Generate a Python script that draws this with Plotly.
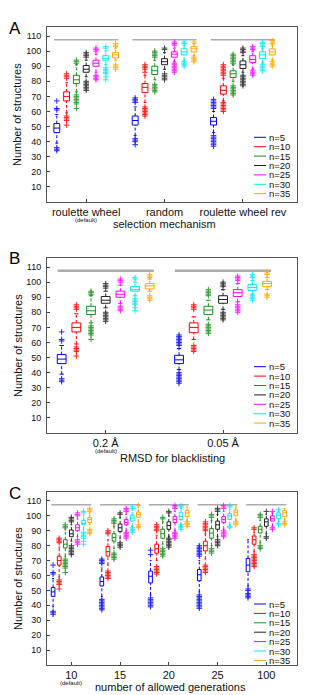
import plotly.graph_objects as go

# ---- data ----
N_LABELS = ['n=5', 'n=10', 'n=15', 'n=20', 'n=25', 'n=30', 'n=35']
COLORS = ['#0000ff', '#ff0000', '#1e8c1e', '#222222', '#ff00ff', '#00e8f0', '#ffa500']
REF_LEVEL = 107.5   # gray reference line above each group

A_CATS = ['roulette wheel', 'random', 'roulette wheel rev']
B_CATS = ['0.2 Å', '0.05 Å']
C_CATS = ['10', '15', '20', '25', '100']

# each row: lower whisker, q1, median, q3, upper whisker (n=5 ... n=35)
DEF_STATS = [(39, 46, 49, 52, 58), (59, 67, 70, 73, 79), (73, 78.5, 81, 84, 91),
             (83, 86, 88, 90.5, 94), (86, 90, 92, 94, 98), (91, 94, 95, 97, 100),
             (94, 95.5, 97.5, 99, 102)]
DEF_OUT = [[34, 35, 36, 61, 62, 67], [51, 54, 55, 56, 57, 82, 83, 84, 85],
           [62, 65, 66, 67, 68, 69, 70, 71, 92, 93, 94], [74, 75, 76, 77, 78, 79, 80, 96, 97, 98, 99],
           [81, 82, 83, 84, 100, 101, 102], [81, 83, 85, 86, 87, 88, 89, 102, 103],
           [88, 89, 90, 91, 103, 104, 105]]

RAND_STATS = [(44, 51, 54, 57, 63), (66, 72.5, 76, 78.5, 84), (81, 84.5, 87, 90, 94),
              (88, 91, 93, 95, 99), (93, 96, 98, 99.5, 102), (94, 97.5, 99.5, 101.5, 104),
              (97, 99.5, 101.5, 103, 105)]
RAND_OUT = [[38, 40, 41, 42, 66, 67, 68, 69], [57, 58, 59, 60, 61, 62, 63, 86, 88, 89, 90, 91],
            [73, 74, 75, 76, 77, 78, 96, 97, 98, 99, 100], [81, 82, 83, 84, 85, 101, 102],
            [86, 87, 88, 89, 90, 91, 92, 104, 105, 106], [90, 91, 92, 93, 105, 106],
            [93, 94, 95, 96, 106]]

REV_STATS = [(46, 51, 53.5, 56, 60), (67, 71.5, 74, 77, 82), (80, 82.5, 85, 87, 91),
             (86, 88.5, 91, 93.5, 97), (88, 92.5, 94.5, 97, 100), (92, 95, 97.5, 99.5, 102),
             (94, 97.5, 99.5, 101.5, 104)]
REV_OUT = [[37, 38, 39, 40, 41, 42, 43, 44, 62, 63, 64, 65, 66, 67, 68],
           [60, 61, 62, 63, 64, 65, 66, 84, 85, 86, 87, 88, 89, 90, 91],
           [71, 72, 73, 74, 75, 76, 77, 92, 93, 94, 95, 96, 97, 98],
           [77, 78, 79, 80, 81, 82, 83, 84, 99, 100, 101, 102],
           [84, 85, 86, 87, 101, 102, 103], [87, 88, 89, 90, 91, 103, 104, 105, 106],
           [90, 91, 92, 93, 105, 106, 107]]

RMSD05_STATS = [(42, 46, 48.5, 51.5, 56), (62, 66.5, 70, 73, 77), (75, 78.5, 81.5, 84, 88),
                (82, 86, 88.5, 91, 95), (87, 90.5, 93, 95, 99), (92, 94.5, 96.5, 98.5, 101),
                (95, 97, 99, 100.5, 103)]
RMSD05_OUT = [[33, 34, 35, 36, 37, 38, 39, 40, 58, 59, 60, 61, 62, 63, 64, 65],
              [54, 55, 56, 57, 58, 82, 83, 84, 85], [66, 67, 68, 69, 70, 71, 72, 91, 92, 93, 94, 95],
              [75, 76, 77, 78, 79, 80, 97, 98, 99, 100], [80, 81, 82, 83, 84, 85, 101, 102, 103, 104],
              [88, 89, 90, 91, 103, 104, 105], [90, 91, 92, 105, 106, 107]]

GEN15_STATS = [(46, 53, 56, 59, 65), (67, 73, 76, 79.5, 84), (78, 83, 85.5, 88, 93),
               (85, 89.5, 92, 94.5, 99), (90, 94, 95.5, 97.5, 101), (93, 96.5, 98.5, 100.5, 104),
               (96, 99, 101, 102.5, 106)]
GEN15_OUT = [[37, 38, 39, 40, 41, 42, 43, 44, 68, 69, 70, 71], [58, 59, 60, 61, 62, 63, 88, 89, 90],
             [71, 72, 73, 74, 75, 95, 96, 97, 98], [79, 80, 81, 82, 101, 102],
             [85, 86, 87, 88, 89, 103, 104, 105], [89, 90, 91, 92, 105, 106], [92, 93, 94, 107]]

GEN20_STATS = [(47, 55, 59.5, 63, 70), (70, 75, 78, 81, 87), (81, 85, 88, 91, 96),
               (86, 91, 93.5, 96, 100), (90, 95.5, 97.5, 99.5, 103), (93, 97.5, 99.5, 102, 105),
               (97, 99.5, 102, 103.5, 106)]
GEN20_OUT = [[39, 40, 41, 42, 43, 44, 45, 74, 77], [61, 62, 63, 64, 65, 66, 90, 91, 92, 93, 94],
             [73, 74, 75, 76, 77, 78, 98, 99], [79, 80, 81, 82, 83, 84, 85, 102, 103],
             [85, 86, 87, 88, 89, 105, 106, 107], [91, 92, 93, 94, 106, 107], [93, 94, 95, 96]]

GEN25_STATS = [(49, 56.5, 60.5, 64, 70), (71, 76.5, 80, 83, 88), (80, 85, 88.5, 91.5, 97),
               (86, 91, 94, 96.5, 101), (91, 95.5, 97.5, 99.5, 103), (94, 97.5, 100, 101.5, 104),
               (97, 100, 102.5, 104, 106)]
GEN25_OUT = [[38, 39, 40, 41, 42, 43, 44, 45, 46, 47, 73, 74, 75, 76, 77, 78, 79, 80],
             [62, 63, 64, 65, 66, 67, 90, 91, 92, 93, 94, 95, 96], [75, 76, 77, 78, 99, 100, 101],
             [80, 81, 82, 83, 84, 103, 104, 105], [86, 87, 88, 89, 90, 105, 106, 107],
             [92, 93, 106, 107], [94, 95, 96]]

GEN100_STATS = [(53, 62.5, 67, 71.5, 84), (76, 81, 84, 86.5, 89), (82, 88.5, 91, 93, 97),
                (88, 93, 96, 98, 101), (93, 96.5, 98, 100, 102), (96, 98, 100.5, 102, 103),
                (97, 99.5, 102, 103.5, 105)]
GEN100_OUT = [[45, 46, 47, 48, 50, 51], [66, 67, 68, 69, 70, 71, 72, 73, 74, 91, 92],
              [78, 79, 80, 99, 100, 101], [85, 86, 103], [91, 92, 103], [94, 95, 104], [94, 95, 96]]

# ---- page geometry (screen pixels; the page body adds an 8px margin) ----
SCREEN_W, SCREEN_H = 334, 695
OFF = 8
W, H = SCREEN_W - OFF, SCREEN_H - OFF
FONT = 'Liberation Sans, Arial, sans-serif'
X_LEFT, X_RIGHT = 47, 297


def px_x(v):
    return (v - OFF) / W


def px_y(v):
    return 1 - (v - OFF) / H


panels = [
    dict(cats=A_CATS, runs=[(DEF_STATS, DEF_OUT), (RAND_STATS, RAND_OUT), (REV_STATS, REV_OUT)],
         top=27, bottom=202, xmax=3.69, letter='A', xtitle='selection mechanism', title_x=164,
         title_y=224, leg_first=64.7, ref_w=1.5),
    dict(cats=B_CATS, runs=[(DEF_STATS, DEF_OUT), (RMSD05_STATS, RMSD05_OUT)],
         top=258, bottom=433, xmax=2.63, letter='B', xtitle='RMSD for blacklisting', title_x=172.5,
         title_y=458, leg_first=66.3, ref_w=2.5),
    dict(cats=C_CATS, runs=[(DEF_STATS, DEF_OUT), (GEN15_STATS, GEN15_OUT), (GEN20_STATS, GEN20_OUT),
                            (GEN25_STATS, GEN25_OUT), (GEN100_STATS, GEN100_OUT)],
         top=492, bottom=665, xmax=5.63, letter='C', xtitle='number of allowed generations',
         title_x=170.5, title_y=687, leg_first=61, ref_w=1.5),
]

STEP = 0.125      # offset between neighbouring n-boxes (category units)
BOX_W = 0.075
REF_HALF = 0.41

fig = go.Figure()
shapes, annots = [], []

for p_i, p in enumerate(panels):
    sfx = '' if p_i == 0 else str(p_i + 1)
    xa, ya = 'x' + sfx, 'y' + sfx
    ncat = len(p['cats'])

    # gray reference line per group
    rx, ry = [], []
    for c in range(ncat):
        rx += [c + 1 - REF_HALF, c + 1 + REF_HALF, None]
        ry += [REF_LEVEL, REF_LEVEL, None]
    fig.add_trace(go.Scatter(x=rx, y=ry, mode='lines', xaxis=xa, yaxis=ya,
                             line=dict(color='#ababab', width=p['ref_w']),
                             hoverinfo='skip', showlegend=False))

    for k in range(len(N_LABELS)):
        col = COLORS[k]
        pos = [c + 1 + (k - 3) * STEP for c in range(ncat)]
        st = [p['runs'][c][0][k] for c in range(ncat)]
        outs = [p['runs'][c][1][k] for c in range(ncat)]
        lo = [s[0] for s in st]
        q1 = [s[1] for s in st]
        med = [s[2] for s in st]
        q3 = [s[3] for s in st]
        hi = [s[4] for s in st]

        # dashed whiskers + small caps
        wx, wy, cx, cy = [], [], [], []
        for i in range(ncat):
            wx += [pos[i], pos[i], None, pos[i], pos[i], None]
            wy += [q3[i], hi[i], None, lo[i], q1[i], None]
            h = BOX_W / 4
            cx += [pos[i] - h, pos[i] + h, None, pos[i] - h, pos[i] + h, None]
            cy += [hi[i], hi[i], None, lo[i], lo[i], None]
        fig.add_trace(go.Scatter(x=wx, y=wy, mode='lines', xaxis=xa, yaxis=ya,
                                 line=dict(color=col, width=1, dash='3px,2px'),
                                 hoverinfo='skip', showlegend=False))
        fig.add_trace(go.Scatter(x=cx, y=cy, mode='lines', xaxis=xa, yaxis=ya,
                                 line=dict(color=col, width=1),
                                 hoverinfo='skip', showlegend=False))

        # boxes
        fig.add_trace(go.Box(x=pos, q1=q1, median=med, q3=q3, lowerfence=q1, upperfence=q3,
                             orientation='v', width=BOX_W, boxpoints=False, whiskerwidth=0,
                             fillcolor='rgba(0,0,0,0)', line=dict(color=col, width=1),
                             xaxis=xa, yaxis=ya, hoverinfo='skip', showlegend=False))

        # outliers
        ox, oy = [], []
        for i in range(ncat):
            ox += [pos[i]] * len(outs[i])
            oy += outs[i]
        fig.add_trace(go.Scatter(x=ox, y=oy, mode='markers', xaxis=xa, yaxis=ya,
                                 marker=dict(symbol='cross-thin', size=4, color=col,
                                             line=dict(color=col, width=1)),
                                 opacity=0.85, hoverinfo='skip', showlegend=False))

    # axes
    ph = p['bottom'] - p['top']
    fig.update_layout(**{
        'xaxis' + sfx: dict(domain=[px_x(X_LEFT), px_x(X_RIGHT)], range=[0.5, p['xmax']],
                            tickvals=list(range(1, ncat + 1)), ticktext=p['cats'],
                            ticks='inside', ticklen=3, tickcolor='#444', showgrid=False,
                            zeroline=False, showline=True, mirror=True, linecolor='#555',
                            linewidth=1, tickfont=dict(size=11, family=FONT, color='#111'),
                            anchor=ya, fixedrange=True),
        'yaxis' + sfx: dict(domain=[px_y(p['bottom']), px_y(p['top'])], range=[0, 116],
                            tickvals=list(range(10, 111, 10)),
                            ticks='inside', ticklen=3, tickcolor='#444', showgrid=False,
                            zeroline=False, showline=True, mirror=True, linecolor='#555',
                            linewidth=1, tickfont=dict(size=9, family=FONT, color='#111'),
                            ticklabelstandoff=3, anchor=xa, fixedrange=True),
    })

    # panel letter (kept inside the page), axis titles
    annots.append(dict(text=p['letter'], xref='paper', yref='paper', x=0,
                       y=px_y(p['top'] + 1), xanchor='left', yanchor='middle',
                       showarrow=False, borderpad=0,
                       font=dict(size=17, family=FONT, color='#000')))
    annots.append(dict(text='Number of structures', xref='paper', yref='paper', x=px_x(17.5),
                       y=px_y(p['top'] + ph / 2), xanchor='center', yanchor='middle',
                       textangle=-90, showarrow=False, font=dict(size=11, family=FONT, color='#111')))
    annots.append(dict(text=p['xtitle'], xref='paper', yref='paper', x=px_x(p['title_x']),
                       y=px_y(p['title_y']), xanchor='center', yanchor='middle',
                       showarrow=False, font=dict(size=11, family=FONT, color='#111')))
    annots.append(dict(text='(default)', xref=xa, yref=ya + ' domain', x=1, y=0, yshift=-18,
                       xanchor='center', yanchor='middle', showarrow=False,
                       font=dict(size=6, family=FONT, color='#111')))

    # legend (drawn inside the axes, bottom right)
    for k, lab in enumerate(N_LABELS):
        yy = (p['leg_first'] - k * 9.4) / ph
        shapes.append(dict(type='line', xref=xa + ' domain', yref=ya + ' domain',
                           x0=(254 - X_LEFT) / (X_RIGHT - X_LEFT), x1=(266 - X_LEFT) / (X_RIGHT - X_LEFT),
                           y0=yy, y1=yy, line=dict(color=COLORS[k], width=1)))
        annots.append(dict(text=lab, xref=xa + ' domain', yref=ya + ' domain',
                           x=(268 - X_LEFT) / (X_RIGHT - X_LEFT), y=yy, xanchor='left',
                           yanchor='middle', showarrow=False, borderpad=0,
                           font=dict(size=9.5, family=FONT, color='#111')))

fig.update_layout(width=W, height=H, margin=dict(l=0, r=0, t=0, b=0),
                  plot_bgcolor='white', paper_bgcolor='white', boxmode='overlay',
                  showlegend=False, shapes=shapes, annotations=annots,
                  font=dict(family=FONT))

fig.write_html('out.html')
